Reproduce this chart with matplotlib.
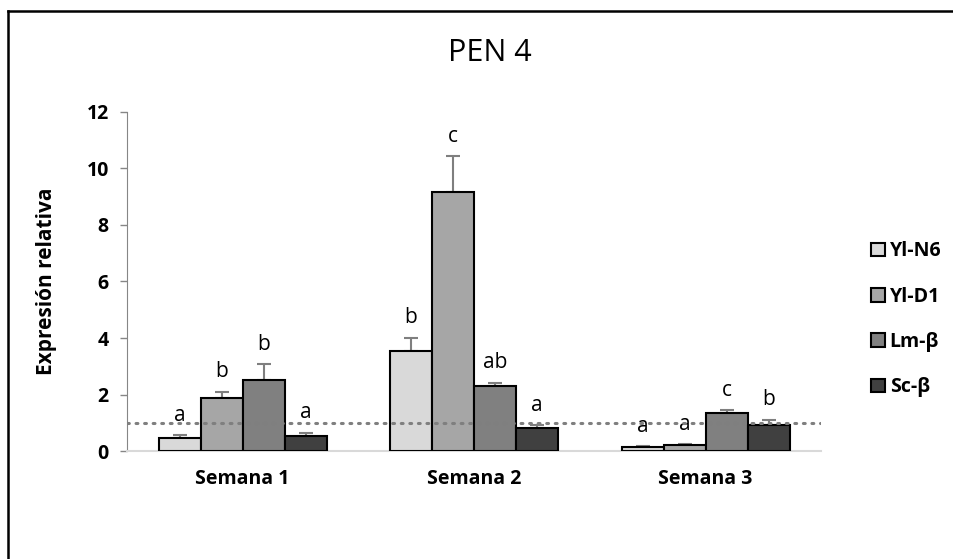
import matplotlib
matplotlib.use("Agg")
import matplotlib.pyplot as plt
import numpy as np
from matplotlib.lines import Line2D

# Data
categories = ["Semana 1", "Semana 2", "Semana 3"]
series = ["Yl-N6", "Yl-D1", "Lm-β", "Sc-β"]
yl_n6 = [0.47, 3.54, 0.15]
yl_d1 = [1.89, 9.16, 0.20]
lm_b = [2.51, 2.30, 1.36]
sc_b = [0.54, 0.81, 0.92]
err_yl_n6 = [0.10, 0.47, 0.02]
err_yl_d1 = [0.21, 1.28, 0.05]
err_lm_b = [0.57, 0.12, 0.09]
err_sc_b = [0.11, 0.10, 0.19]
letters_yl_n6 = ["a", "b", "a"]
letters_yl_d1 = ["b", "c", "a"]
letters_lm_b = ["b", "ab", "c"]
letters_sc_b = ["a", "a", "b"]
reference_level = 1.0
yticks = [0, 2, 4, 6, 8, 10, 12]

values = [yl_n6, yl_d1, lm_b, sc_b]
errors = [err_yl_n6, err_yl_d1, err_lm_b, err_sc_b]
letters = [letters_yl_n6, letters_yl_d1, letters_lm_b, letters_sc_b]
colors = ["#d9d9d9", "#a6a6a6", "#808080", "#404040"]

plt.rcParams["font.family"] = ["Open Sans", "DejaVu Sans"]

fig = plt.figure(figsize=(9.54, 5.59), dpi=100)
ax = fig.add_axes([0.133, 0.193, 0.728, 0.607])

x = np.arange(len(categories))
width = 0.1815
offsets = (np.arange(len(series)) - 1.5) * width

for vals, errs, labs, col, off, name in zip(values, errors, letters, colors, offsets, series):
    ax.bar(x + off, vals, width, color=col, edgecolor="black", linewidth=1.5,
           label=name, zorder=3)
    ax.errorbar(x + off, vals, yerr=[np.zeros(len(vals)), errs], fmt="none",
                ecolor="#7f7f7f", elinewidth=1.5, capsize=5, capthick=1.5, zorder=2)
    for xi, v, e, t in zip(x + off, vals, errs, labs):
        ax.text(xi, v + e + 0.7, t, ha="center", va="center", fontsize=15, color="black")

ax.axhline(reference_level, color="#7f7f7f", linestyle=(0, (0.6, 2.2)),
           linewidth=2.2, dash_capstyle="round", zorder=4)

ax.set_xlim(-0.5, len(categories) - 0.5)
ax.set_ylim(0, 12)
ax.set_yticks(yticks)
ax.set_yticklabels([str(t) for t in yticks], fontsize=14, fontweight="bold")
ax.set_xticks(x)
ax.set_xticklabels(categories, fontsize=14, fontweight="bold")
ax.tick_params(axis="x", length=0, pad=13)
ax.tick_params(axis="y", length=5, color="#868686", width=1, pad=8, direction="out")
ax.set_ylabel("Expresión relativa", fontsize=15, fontweight="bold", labelpad=21)

for s in ["top", "right"]:
    ax.spines[s].set_visible(False)
ax.spines["left"].set_color("#868686")
ax.spines["bottom"].set_color("#d9d9d9")
ax.spines["bottom"].set_linewidth(1.5)

fig.text(0.513, 0.905, "PEN 4", ha="center", va="center", fontsize=22)

leg = ax.legend(loc="upper left", bbox_to_anchor=(0.905, 0.582), bbox_transform=fig.transFigure,
                frameon=False, handlelength=0.7, handleheight=0.7, handletextpad=0.25,
                labelspacing=1.3, prop={"weight": "bold", "size": 14}, borderaxespad=0)
for h in leg.legend_handles:
    h.set_edgecolor("black")
    h.set_linewidth(1.5)

# outer frame (top and left edges)
fig.add_artist(Line2D([8 / 954, 1.0], [1 - 11 / 559, 1 - 11 / 559], transform=fig.transFigure,
                      color="black", linewidth=1.8))
fig.add_artist(Line2D([8 / 954, 8 / 954], [1 - 11 / 559, 0.0], transform=fig.transFigure,
                      color="black", linewidth=1.8))

fig.savefig("out.png", dpi=100)
